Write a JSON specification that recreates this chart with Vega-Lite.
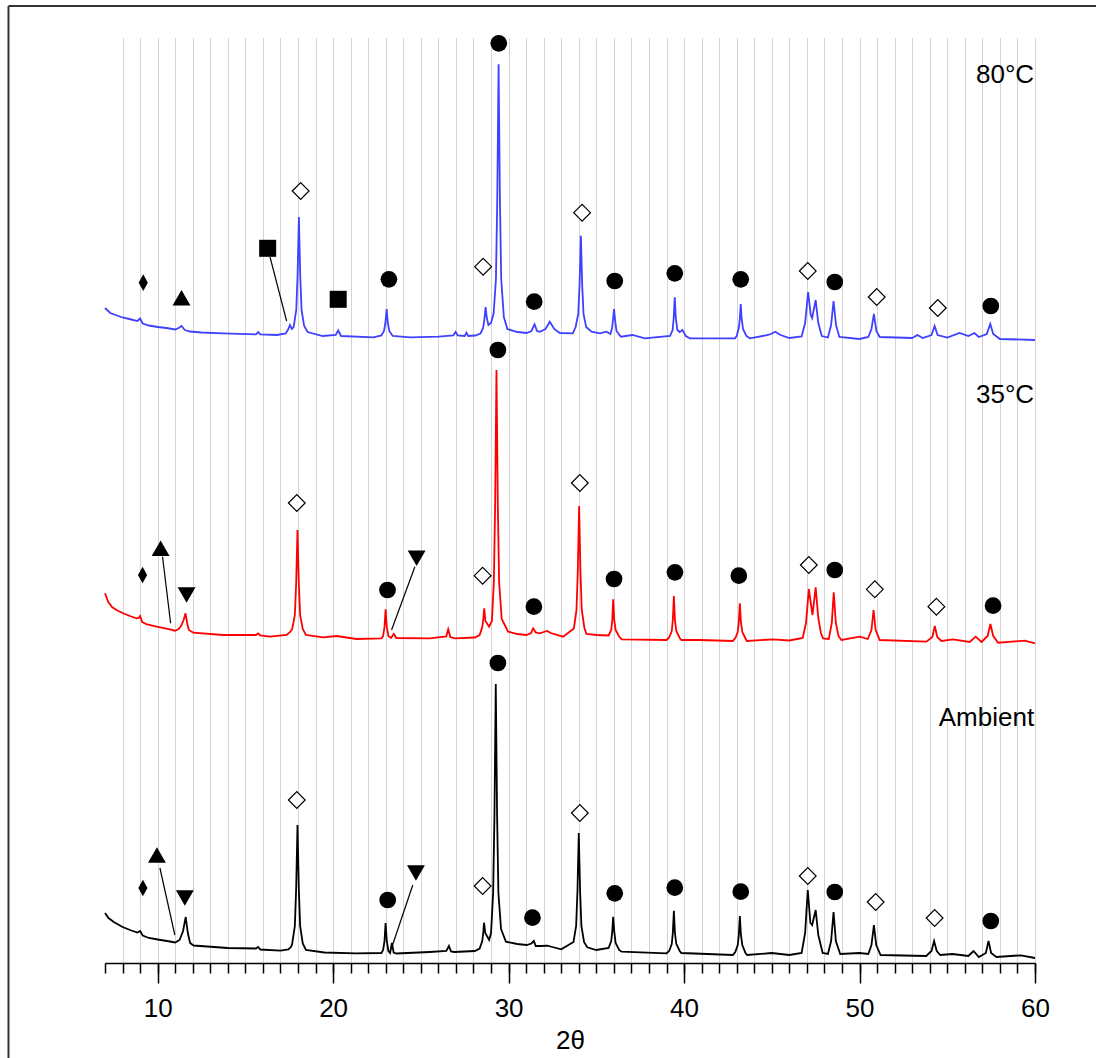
{
"$schema": "https://vega.github.io/schema/vega-lite/v6.json",
"width": 930, "height": 925,
"autosize": {"type": "none"},
"padding": {"left": 105, "top": 38, "right": 61, "bottom": 95},
"background": "white",
"config": {"view": {"stroke": null}, "font": "Liberation Sans"},
"resolve": {"axis": {"x": "independent"}},
"datasets": {
"blue": [
{"t":7.0,"v":655},{"t":7.3,"v":650},{"t":7.6,"v":648},{"t":8.0,"v":645.5},{"t":8.5,"v":643.5},{"t":8.85,"v":642},{"t":9.0,"v":644.5},{"t":9.15,"v":639.5},{"t":9.5,"v":637.5},{"t":10.0,"v":636},{"t":10.5,"v":635},{"t":11.0,"v":633.5},{"t":11.2,"v":635},{"t":11.36,"v":637},{"t":11.55,"v":633},{"t":11.85,"v":631.5},{"t":12.5,"v":630.5},{"t":13.7,"v":629.7},{"t":15.6,"v":628.7},{"t":15.73,"v":631},{"t":15.85,"v":628.7},{"t":16.8,"v":628},{"t":17.3,"v":629.5},{"t":17.45,"v":634},{"t":17.54,"v":638},{"t":17.65,"v":634},{"t":17.75,"v":636},{"t":17.9,"v":653},{"t":17.975,"v":688},{"t":18.05,"v":746},{"t":18.125,"v":688},{"t":18.2,"v":653},{"t":18.35,"v":637},{"t":18.55,"v":631},{"t":19.4,"v":627},{"t":20.15,"v":628},{"t":20.29,"v":632.5},{"t":20.45,"v":627},{"t":22.3,"v":625.7},{"t":22.75,"v":627.5},{"t":22.9,"v":632},{"t":22.98,"v":640},{"t":23.05,"v":654},{"t":23.12,"v":640},{"t":23.2,"v":632},{"t":23.4,"v":627},{"t":24.4,"v":625.7},{"t":26.0,"v":626.3},{"t":26.85,"v":627.5},{"t":26.98,"v":631},{"t":27.1,"v":627.5},{"t":27.5,"v":627},{"t":27.6,"v":630.3},{"t":27.7,"v":627},{"t":28.1,"v":627.5},{"t":28.4,"v":629.5},{"t":28.55,"v":635},{"t":28.63,"v":645},{"t":28.69,"v":656},{"t":28.76,"v":645},{"t":28.85,"v":638},{"t":29.0,"v":640},{"t":29.15,"v":650},{"t":29.28,"v":684},{"t":29.355,"v":764},{"t":29.43,"v":898.7},{"t":29.505,"v":764},{"t":29.58,"v":684},{"t":29.73,"v":646},{"t":29.93,"v":634},{"t":30.5,"v":631},{"t":31.02,"v":630},{"t":31.3,"v":632},{"t":31.48,"v":638.7},{"t":31.62,"v":632},{"t":31.78,"v":631.3},{"t":32.1,"v":634},{"t":32.35,"v":641.3},{"t":32.6,"v":634},{"t":32.92,"v":630},{"t":33.66,"v":629.7},{"t":33.82,"v":636},{"t":33.97,"v":649},{"t":34.045,"v":678},{"t":34.12,"v":727.3},{"t":34.195,"v":678},{"t":34.27,"v":649},{"t":34.42,"v":636},{"t":34.73,"v":631.3},{"t":35.2,"v":629.7},{"t":35.58,"v":631.3},{"t":35.8,"v":629},{"t":35.9,"v":635},{"t":35.96,"v":645},{"t":36.01,"v":654},{"t":36.07,"v":643},{"t":36.15,"v":632},{"t":36.4,"v":626.3},{"t":37.06,"v":628},{"t":37.76,"v":624.7},{"t":39.2,"v":627},{"t":39.35,"v":633},{"t":39.41,"v":645},{"t":39.47,"v":665.7},{"t":39.53,"v":645},{"t":39.62,"v":633},{"t":39.75,"v":631},{"t":39.91,"v":633},{"t":40.1,"v":627},{"t":40.33,"v":624.7},{"t":42.9,"v":624.7},{"t":43.0,"v":627},{"t":43.13,"v":636},{"t":43.18,"v":645},{"t":43.23,"v":659},{"t":43.28,"v":645},{"t":43.36,"v":634},{"t":43.55,"v":627},{"t":43.75,"v":624.7},{"t":44.79,"v":628},{"t":45.0,"v":629.5},{"t":45.2,"v":631.3},{"t":45.5,"v":628},{"t":46.0,"v":625},{"t":46.7,"v":626.5},{"t":46.9,"v":640},{"t":47.07,"v":671},{"t":47.22,"v":648},{"t":47.3,"v":645},{"t":47.5,"v":663},{"t":47.65,"v":640},{"t":47.85,"v":627},{"t":48.2,"v":625.5},{"t":48.38,"v":638},{"t":48.52,"v":662},{"t":48.66,"v":638},{"t":48.85,"v":626},{"t":50.0,"v":624},{"t":50.5,"v":626},{"t":50.68,"v":634},{"t":50.82,"v":649},{"t":50.96,"v":632},{"t":51.15,"v":626},{"t":53.0,"v":625},{"t":53.3,"v":628},{"t":53.6,"v":625},{"t":54.1,"v":628},{"t":54.28,"v":637},{"t":54.45,"v":628},{"t":55.0,"v":625.5},{"t":55.7,"v":630},{"t":56.2,"v":627},{"t":56.55,"v":630},{"t":56.8,"v":626},{"t":57.25,"v":629},{"t":57.45,"v":639},{"t":57.62,"v":629},{"t":58.0,"v":624},{"t":60.0,"v":623}
],
"red": [
{"t":7.0,"v":369.7},{"t":7.18,"v":361.3},{"t":7.4,"v":356},{"t":7.66,"v":353},{"t":8.0,"v":350},{"t":8.42,"v":347},{"t":8.8,"v":344.7},{"t":8.92,"v":345},{"t":9.0,"v":347},{"t":9.12,"v":341},{"t":9.4,"v":338.5},{"t":9.94,"v":336.3},{"t":10.7,"v":333.7},{"t":10.98,"v":332.3},{"t":11.2,"v":334},{"t":11.36,"v":338},{"t":11.48,"v":343},{"t":11.59,"v":349.7},{"t":11.68,"v":340},{"t":11.78,"v":333},{"t":12.03,"v":330.3},{"t":13.73,"v":328},{"t":15.6,"v":328},{"t":15.73,"v":329.5},{"t":15.85,"v":327.5},{"t":16.4,"v":326.3},{"t":17.35,"v":328},{"t":17.55,"v":331},{"t":17.67,"v":334},{"t":17.82,"v":348},{"t":17.895,"v":380},{"t":17.97,"v":433},{"t":18.045,"v":380},{"t":18.12,"v":348},{"t":18.27,"v":334},{"t":18.45,"v":328},{"t":19.43,"v":325.7},{"t":20.2,"v":327},{"t":21.34,"v":324},{"t":22.76,"v":324.7},{"t":22.85,"v":327},{"t":22.93,"v":336},{"t":22.99,"v":353.7},{"t":23.06,"v":336},{"t":23.15,"v":327},{"t":23.3,"v":325},{"t":23.46,"v":329},{"t":23.6,"v":325},{"t":25.51,"v":324.7},{"t":26.45,"v":326.5},{"t":26.56,"v":333.7},{"t":26.68,"v":326},{"t":26.94,"v":324.7},{"t":28.08,"v":325.5},{"t":28.35,"v":328},{"t":28.5,"v":336},{"t":28.56,"v":344},{"t":28.61,"v":354.7},{"t":28.68,"v":342},{"t":28.89,"v":336.3},{"t":29.05,"v":342},{"t":29.16,"v":381},{"t":29.235,"v":460},{"t":29.31,"v":593},{"t":29.385,"v":460},{"t":29.46,"v":381},{"t":29.61,"v":344},{"t":29.97,"v":331.3},{"t":30.5,"v":329},{"t":31.02,"v":328},{"t":31.28,"v":330},{"t":31.4,"v":334.7},{"t":31.55,"v":330.5},{"t":31.78,"v":329.7},{"t":32.0,"v":331},{"t":32.2,"v":332},{"t":32.4,"v":330},{"t":33.11,"v":326.3},{"t":33.72,"v":334.5},{"t":33.87,"v":353},{"t":33.945,"v":392},{"t":34.02,"v":457},{"t":34.095,"v":392},{"t":34.17,"v":353},{"t":34.32,"v":335},{"t":34.44,"v":329},{"t":35.01,"v":328},{"t":35.7,"v":327.5},{"t":35.85,"v":333},{"t":35.91,"v":343},{"t":35.96,"v":363.7},{"t":36.02,"v":343},{"t":36.1,"v":333},{"t":36.3,"v":326.5},{"t":36.44,"v":323.7},{"t":39.0,"v":323},{"t":39.15,"v":325.5},{"t":39.3,"v":332},{"t":39.36,"v":343},{"t":39.42,"v":367},{"t":39.48,"v":343},{"t":39.56,"v":332},{"t":39.75,"v":325},{"t":39.85,"v":323},{"t":40.9,"v":323},{"t":42.78,"v":322},{"t":42.92,"v":325},{"t":43.06,"v":331},{"t":43.12,"v":341},{"t":43.18,"v":359.7},{"t":43.24,"v":341},{"t":43.32,"v":331},{"t":43.5,"v":324.5},{"t":43.58,"v":322},{"t":45.07,"v":323.7},{"t":46.0,"v":322.5},{"t":46.76,"v":325},{"t":46.95,"v":340},{"t":47.11,"v":374},{"t":47.32,"v":348},{"t":47.5,"v":375.7},{"t":47.65,"v":345},{"t":47.8,"v":330},{"t":47.92,"v":324.7},{"t":48.25,"v":324},{"t":48.42,"v":340},{"t":48.53,"v":370.7},{"t":48.65,"v":340},{"t":48.8,"v":327},{"t":48.97,"v":323},{"t":50.01,"v":326.3},{"t":50.47,"v":324},{"t":50.68,"v":333},{"t":50.8,"v":353},{"t":50.92,"v":333},{"t":51.15,"v":323},{"t":53.81,"v":321.3},{"t":54.15,"v":326},{"t":54.29,"v":337},{"t":54.43,"v":326},{"t":54.67,"v":322},{"t":55.33,"v":323.7},{"t":56.28,"v":321},{"t":56.62,"v":326.3},{"t":56.95,"v":321},{"t":57.3,"v":327},{"t":57.46,"v":339},{"t":57.62,"v":327},{"t":57.9,"v":320.3},{"t":59.42,"v":322.3},{"t":60.0,"v":319.7}
],
"black": [
{"t":7.0,"v":50},{"t":7.2,"v":45},{"t":7.5,"v":41},{"t":8.0,"v":36},{"t":8.5,"v":32.5},{"t":8.85,"v":30.5},{"t":9.0,"v":32},{"t":9.15,"v":27.5},{"t":9.5,"v":25},{"t":10.0,"v":23.5},{"t":10.7,"v":21.5},{"t":11.0,"v":20.5},{"t":11.25,"v":23},{"t":11.45,"v":32},{"t":11.6,"v":46},{"t":11.72,"v":30},{"t":11.85,"v":20},{"t":12.05,"v":17.5},{"t":14.0,"v":15},{"t":15.6,"v":14.5},{"t":15.73,"v":16},{"t":15.85,"v":13.5},{"t":17.0,"v":12.3},{"t":17.45,"v":13.5},{"t":17.6,"v":16},{"t":17.67,"v":19.5},{"t":17.82,"v":37},{"t":17.895,"v":75},{"t":17.97,"v":138},{"t":18.045,"v":75},{"t":18.12,"v":37},{"t":18.27,"v":19.5},{"t":18.45,"v":13},{"t":19.5,"v":10.5},{"t":21.3,"v":9.7},{"t":22.75,"v":10},{"t":22.85,"v":13},{"t":22.93,"v":22},{"t":22.99,"v":40},{"t":23.06,"v":22},{"t":23.15,"v":12},{"t":23.25,"v":10},{"t":23.35,"v":20},{"t":23.45,"v":10.5},{"t":23.6,"v":9.5},{"t":25.5,"v":11},{"t":26.45,"v":12},{"t":26.6,"v":17},{"t":26.72,"v":11.5},{"t":26.9,"v":11},{"t":28.08,"v":12},{"t":28.35,"v":14.5},{"t":28.5,"v":22},{"t":28.56,"v":31},{"t":28.6,"v":40.3},{"t":28.67,"v":30},{"t":28.89,"v":23},{"t":29.0,"v":30},{"t":29.12,"v":70},{"t":29.195,"v":148},{"t":29.27,"v":279},{"t":29.345,"v":148},{"t":29.42,"v":70},{"t":29.57,"v":34},{"t":29.85,"v":21.3},{"t":30.5,"v":19},{"t":31.02,"v":18},{"t":31.3,"v":19.5},{"t":31.44,"v":22},{"t":31.55,"v":17},{"t":31.85,"v":17},{"t":32.2,"v":17.3},{"t":32.5,"v":16},{"t":33.0,"v":13.7},{"t":33.7,"v":21},{"t":33.85,"v":37},{"t":33.925,"v":72},{"t":34.0,"v":130},{"t":34.075,"v":72},{"t":34.15,"v":37},{"t":34.3,"v":21},{"t":34.48,"v":15.7},{"t":35.0,"v":13},{"t":35.7,"v":15},{"t":35.85,"v":22},{"t":35.91,"v":32},{"t":35.96,"v":46.3},{"t":36.02,"v":32},{"t":36.1,"v":20},{"t":36.3,"v":13},{"t":36.44,"v":11.3},{"t":39.0,"v":9.7},{"t":39.15,"v":12},{"t":39.3,"v":19},{"t":39.36,"v":30},{"t":39.42,"v":52.3},{"t":39.48,"v":30},{"t":39.56,"v":19},{"t":39.75,"v":12},{"t":39.85,"v":10},{"t":42.78,"v":8},{"t":42.92,"v":11},{"t":43.06,"v":18},{"t":43.12,"v":28},{"t":43.18,"v":47},{"t":43.24,"v":28},{"t":43.32,"v":18},{"t":43.5,"v":10},{"t":43.6,"v":8},{"t":45.0,"v":10},{"t":46.0,"v":8},{"t":46.7,"v":10},{"t":46.9,"v":30},{"t":47.05,"v":73},{"t":47.2,"v":40},{"t":47.3,"v":38},{"t":47.5,"v":53},{"t":47.65,"v":28},{"t":47.9,"v":10},{"t":48.2,"v":9},{"t":48.38,"v":22},{"t":48.52,"v":51},{"t":48.65,"v":22},{"t":48.9,"v":9},{"t":50.0,"v":10},{"t":50.5,"v":9},{"t":50.68,"v":18},{"t":50.82,"v":38},{"t":50.95,"v":18},{"t":51.2,"v":8},{"t":53.8,"v":7},{"t":54.1,"v":12},{"t":54.25,"v":22},{"t":54.4,"v":12},{"t":54.6,"v":8},{"t":55.3,"v":9},{"t":56.2,"v":7},{"t":56.5,"v":12},{"t":56.8,"v":6},{"t":57.2,"v":10},{"t":57.35,"v":22},{"t":57.5,"v":10},{"t":57.8,"v":6},{"t":59.2,"v":7.7},{"t":60.0,"v":5}
],
"marks": [
{"m":"fd","t":9.18,"v":680.3},{"m":"tu","t":11.36,"v":665.3},{"m":"sq","t":16.27,"v":714.7},{"m":"od","t":18.15,"v":772},{"m":"sq","t":20.29,"v":663.7},{"m":"ci","t":23.18,"v":683.7},{"m":"od","t":28.55,"v":696.3},{"m":"ci","t":29.44,"v":919.7},{"m":"ci","t":31.46,"v":661.3},{"m":"od","t":34.19,"v":750.3},{"m":"ci","t":36.05,"v":682},{"m":"ci","t":39.47,"v":689.7},{"m":"ci","t":43.23,"v":683.7},{"m":"od","t":47.05,"v":692},{"m":"ci","t":48.59,"v":681},{"m":"od","t":50.98,"v":666},{"m":"od","t":54.46,"v":655},{"m":"ci","t":57.48,"v":657},
{"m":"fd","t":9.14,"v":388},{"m":"tu","t":10.17,"v":414.7},{"m":"td","t":11.65,"v":368},{"m":"od","t":17.93,"v":460},{"m":"ci","t":23.1,"v":373},{"m":"td","t":24.76,"v":404.7},{"m":"od","t":28.52,"v":387.3},{"m":"ci","t":29.39,"v":613},{"m":"ci","t":31.44,"v":356.3},{"m":"od","t":34.06,"v":480},{"m":"ci","t":36.01,"v":384},{"m":"ci","t":39.48,"v":390.7},{"m":"ci","t":43.12,"v":387.3},{"m":"od","t":47.11,"v":398},{"m":"ci","t":48.59,"v":393},{"m":"od","t":50.87,"v":373.7},{"m":"od","t":54.38,"v":356.3},{"m":"ci","t":57.61,"v":357.3},
{"m":"fd","t":9.16,"v":75},{"m":"tu","t":9.96,"v":108},{"m":"td","t":11.55,"v":65},{"m":"od","t":17.93,"v":163},{"m":"ci","t":23.11,"v":63},{"m":"td","t":24.72,"v":90},{"m":"od","t":28.52,"v":77},{"m":"ci","t":29.39,"v":300},{"m":"ci","t":31.36,"v":45.3},{"m":"od","t":34.06,"v":150},{"m":"ci","t":36.05,"v":69.7},{"m":"ci","t":39.47,"v":75.3},{"m":"ci","t":43.23,"v":71.3},{"m":"od","t":47.05,"v":87},{"m":"ci","t":48.59,"v":71},{"m":"od","t":50.92,"v":61},{"m":"od","t":54.28,"v":45},{"m":"ci","t":57.48,"v":42}
],
"links": [
{"t":16.4,"v":706.3,"t2":17.35,"v2":642},
{"t":10.28,"v":406.3,"t2":10.74,"v2":339.7},
{"t":24.66,"v":396.3,"t2":23.33,"v2":333},
{"t":10.13,"v":95,"t2":10.98,"v2":28},
{"t":24.54,"v":78,"t2":23.35,"v2":16}
],
"labels": [
{"t":59.95,"v":888,"txt":"80°C"},
{"t":59.95,"v":568,"txt":"35°C"},
{"t":59.95,"v":245,"txt":"Ambient"}
],
"frame": [
{"t":1.5,"v":-300,"t2":1.5,"v2":957},
{"t":1.5,"v":957,"t2":90,"v2":957}
]
},
"layer": [
{"data": {"name": "blue"}, "mark": {"type": "line", "color": "#4040ff", "strokeWidth": 1.8},
 "encoding": {
  "x": {"field": "t", "type": "quantitative", "scale": {"domain": [7, 60], "nice": false, "zero": false},
        "axis": {"orient": "bottom", "values": [8,9,10,11,12,13,14,15,16,17,18,19,20,21,22,23,24,25,26,27,28,29,30,31,32,33,34,35,36,37,38,39,40,41,42,43,44,45,46,47,48,49,50,51,52,53,54,55,56,57,58,59,60],
                 "grid": true, "gridColor": "#a8a8a8", "gridDash": [1, 1], "gridWidth": 1, "ticks": false, "labels": false, "domain": false, "title": null}},
  "y": {"field": "v", "type": "quantitative", "scale": {"domain": [0, 925], "nice": false, "zero": false}, "axis": null}}},
{"data": {"name": "red"}, "mark": {"type": "line", "color": "#ff0000", "strokeWidth": 1.8},
 "encoding": {
  "x": {"field": "t", "type": "quantitative",
        "axis": {"orient": "bottom", "values": [7,8,9,10,11,12,13,14,15,16,17,18,19,20,21,22,23,24,25,26,27,28,29,30,31,32,33,34,35,36,37,38,39,40,41,42,43,44,45,46,47,48,49,50,51,52,53,54,55,56,57,58,59,60],
                 "grid": false, "ticks": true, "tickSize": 10, "tickColor": "#000", "tickWidth": 1.5, "labels": false, "domain": true, "domainColor": "#000", "domainWidth": 1.5, "title": null}},
  "y": {"field": "v", "type": "quantitative", "axis": null}}},
{"data": {"name": "black"}, "mark": {"type": "line", "color": "#000000", "strokeWidth": 1.8},
 "encoding": {
  "x": {"field": "t", "type": "quantitative",
        "axis": {"orient": "bottom", "values": [10,20,30,40,50,60], "grid": false, "ticks": true, "tickSize": 20, "tickColor": "#000", "tickWidth": 1.5,
                 "labels": true, "labelFont": "Liberation Sans", "labelFontSize": 26, "labelColor": "#000", "labelPadding": 12, "labelFlush": false,
                 "domain": false, "title": "2θ", "titleFont": "Liberation Sans", "titleFontSize": 26, "titleFontWeight": "normal", "titleColor": "#000", "titlePadding": 6}},
  "y": {"field": "v", "type": "quantitative", "axis": null}}},
{"data": {"name": "links"}, "mark": {"type": "rule", "color": "#000", "strokeWidth": 1.2},
 "encoding": {"x": {"field": "t", "type": "quantitative", "axis": null}, "x2": {"field": "t2"}, "y": {"field": "v", "type": "quantitative", "axis": null}, "y2": {"field": "v2"}}},
{"data": {"name": "frame"}, "mark": {"type": "rule", "color": "#333", "strokeWidth": 2},
 "encoding": {"x": {"field": "t", "type": "quantitative", "axis": null}, "x2": {"field": "t2"}, "y": {"field": "v", "type": "quantitative", "axis": null}, "y2": {"field": "v2"}}},
{"data": {"name": "marks"}, "transform": [{"filter": {"field": "m", "equal": "ci"}}],
 "mark": {"type": "point", "shape": "circle", "filled": true, "color": "#000", "size": 280, "opacity": 1},
 "encoding": {"x": {"field": "t", "type": "quantitative", "axis": null}, "y": {"field": "v", "type": "quantitative", "axis": null}}},
{"data": {"name": "marks"}, "transform": [{"filter": {"field": "m", "equal": "sq"}}],
 "mark": {"type": "point", "shape": "square", "filled": true, "color": "#000", "size": 289, "opacity": 1},
 "encoding": {"x": {"field": "t", "type": "quantitative", "axis": null}, "y": {"field": "v", "type": "quantitative", "axis": null}}},
{"data": {"name": "marks"}, "transform": [{"filter": {"field": "m", "equal": "tu"}}],
 "mark": {"type": "point", "shape": "triangle-up", "filled": true, "color": "#000", "size": 320, "opacity": 1},
 "encoding": {"x": {"field": "t", "type": "quantitative", "axis": null}, "y": {"field": "v", "type": "quantitative", "axis": null}}},
{"data": {"name": "marks"}, "transform": [{"filter": {"field": "m", "equal": "td"}}],
 "mark": {"type": "point", "shape": "triangle-down", "filled": true, "color": "#000", "size": 320, "opacity": 1},
 "encoding": {"x": {"field": "t", "type": "quantitative", "axis": null}, "y": {"field": "v", "type": "quantitative", "axis": null}}},
{"data": {"name": "marks"}, "transform": [{"filter": {"field": "m", "equal": "fd"}}],
 "mark": {"type": "point", "shape": "M0,-1L0.55,0L0,1L-0.55,0Z", "filled": true, "color": "#000", "size": 280, "opacity": 1},
 "encoding": {"x": {"field": "t", "type": "quantitative", "axis": null}, "y": {"field": "v", "type": "quantitative", "axis": null}}},
{"data": {"name": "marks"}, "transform": [{"filter": {"field": "m", "equal": "od"}}],
 "mark": {"type": "point", "shape": "diamond", "filled": true, "fill": "#fff", "stroke": "#000", "strokeWidth": 1.2, "size": 280, "opacity": 1},
 "encoding": {"x": {"field": "t", "type": "quantitative", "axis": null}, "y": {"field": "v", "type": "quantitative", "axis": null}}},
{"data": {"name": "labels"}, "mark": {"type": "text", "align": "right", "baseline": "middle", "font": "Liberation Sans", "fontSize": 26, "color": "#000"},
 "encoding": {"x": {"field": "t", "type": "quantitative", "axis": null}, "y": {"field": "v", "type": "quantitative", "axis": null}, "text": {"field": "txt"}}}
]
}
